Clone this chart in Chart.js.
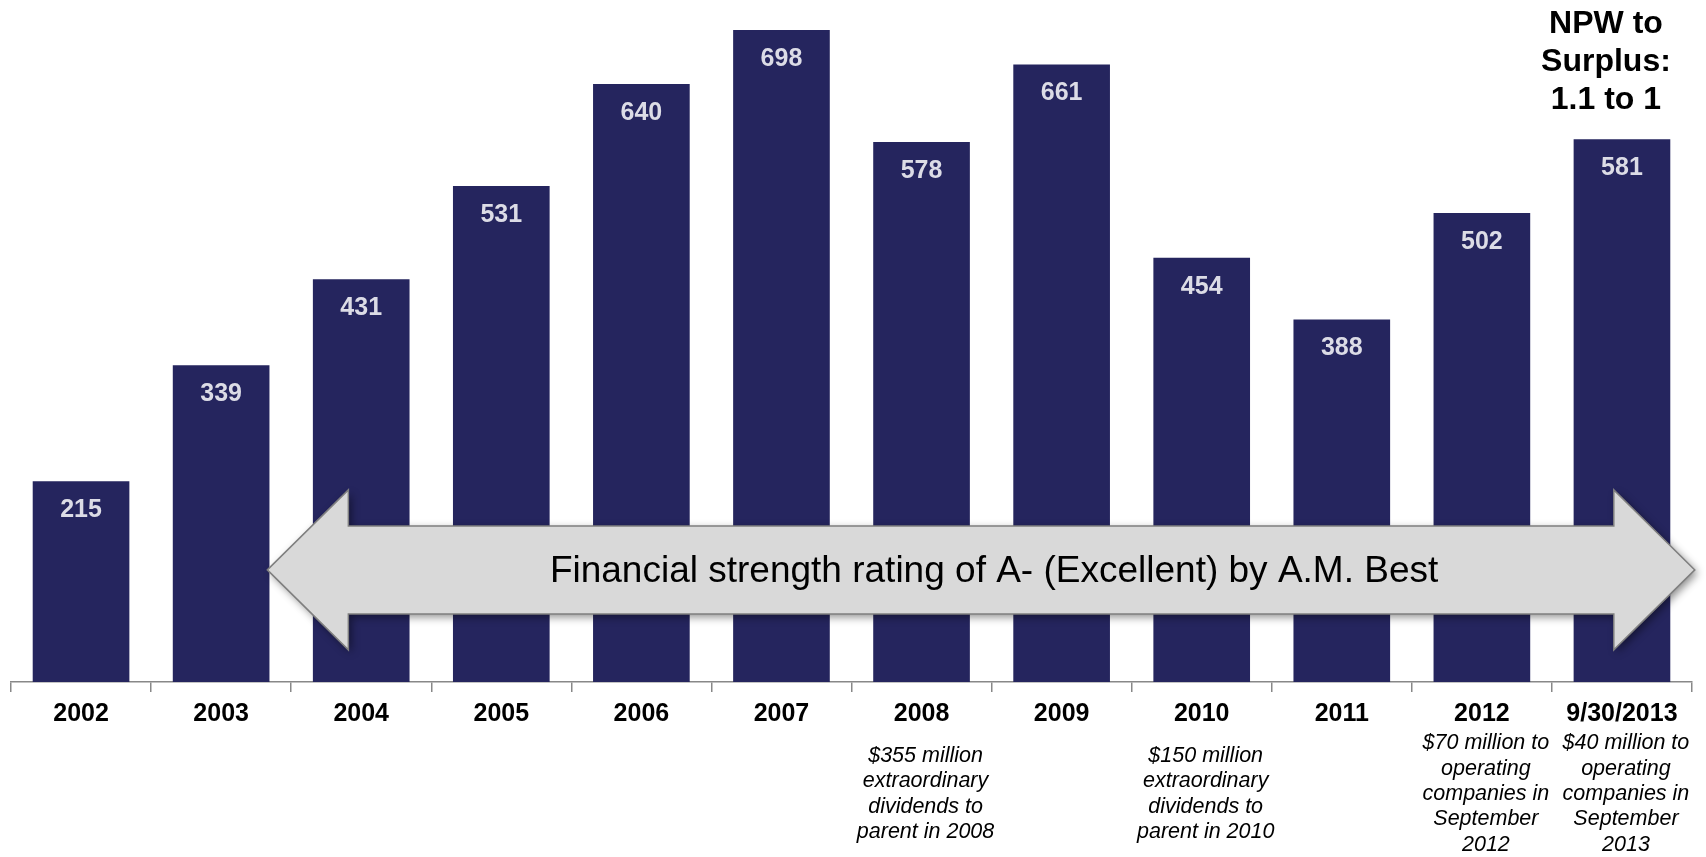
<!DOCTYPE html>
<html>
<head>
<meta charset="utf-8">
<script src="https://cdn.jsdelivr.net/npm/chart.js@4/dist/chart.umd.min.js"></script>
<style>
  html, body { margin: 0; padding: 0; background: #fff; }
  #wrap { width: 1706px; height: 857px; position: relative; }
</style>
</head>
<body>
<div id="wrap"><canvas id="surplusChart"></canvas></div>
<script>
// statutory surplus by year ($ millions)
const years = ['2002', '2003', '2004', '2005', '2006', '2007', '2008', '2009', '2010', '2011', '2012', '9/30/2013'];
const surplus = [215, 339, 431, 531, 640, 698, 578, 661, 454, 388, 502, 581];
const notes = [
	[], [], [], [], [], [],
	['$355 million', 'extraordinary', 'dividends to', 'parent in 2008'],
	[],
	['$150 million', 'extraordinary', 'dividends to', 'parent in 2010'],
	[],
	['$70 million to', 'operating', 'companies in', 'September', '2012'],
	['$40 million to', 'operating', 'companies in', 'September', '2013']
];
const arrowLabel = 'Financial strength rating of A- (Excellent) by A.M. Best';
const ratioLines = ['NPW to', 'Surplus:', '1.1 to 1'];
// arrow span in category index units, and its vertical centre in surplus units
const arrowFrom = 1.33, arrowTo = 11.52, arrowLevel = 120;

const FONT = '"Liberation Sans", Arial, sans-serif';

const overlayPlugin = {
	id: 'overlay',
	afterDatasetsDraw(chart) {
		const ctx = chart.ctx;
		const x = chart.scales.x, y = chart.scales.y;
		const meta = chart.getDatasetMeta(0);

		// values inside bars
		ctx.save();
		ctx.fillStyle = '#dcdce6';
		ctx.font = 'bold 25px ' + FONT;
		ctx.textAlign = 'center';
		ctx.textBaseline = 'middle';
		meta.data.forEach((bar, i) => {
			ctx.fillText(String(surplus[i]), bar.x, bar.y + 29);
		});
		ctx.restore();

		// double-headed arrow
		const left = x.getPixelForValue(arrowFrom);
		const right = x.getPixelForValue(arrowTo);
		const cy = y.getPixelForValue(arrowLevel);
		const body = 44, head = 80, headLen = 81;
		ctx.save();
		ctx.beginPath();
		ctx.moveTo(left, cy);
		ctx.lineTo(left + headLen, cy - head);
		ctx.lineTo(left + headLen, cy - body);
		ctx.lineTo(right - headLen, cy - body);
		ctx.lineTo(right - headLen, cy - head);
		ctx.lineTo(right, cy);
		ctx.lineTo(right - headLen, cy + head);
		ctx.lineTo(right - headLen, cy + body);
		ctx.lineTo(left + headLen, cy + body);
		ctx.lineTo(left + headLen, cy + head);
		ctx.closePath();
		ctx.shadowColor = 'rgba(0,0,0,0.45)';
		ctx.shadowBlur = 8;
		ctx.shadowOffsetX = 3;
		ctx.shadowOffsetY = 3;
		ctx.fillStyle = '#d9d9d9';
		ctx.fill();
		ctx.shadowColor = 'transparent';
		ctx.strokeStyle = '#7f7f7f';
		ctx.lineWidth = 1.5;
		ctx.stroke();
		ctx.fillStyle = '#000';
		ctx.font = '37px ' + FONT;
		ctx.textAlign = 'center';
		ctx.textBaseline = 'middle';
		ctx.fillText(arrowLabel, (left + right) / 2 + 13, cy + 2);
		ctx.restore();

		// notes under the year labels
		ctx.save();
		ctx.fillStyle = '#000';
		ctx.font = 'italic 21.5px ' + FONT;
		ctx.textAlign = 'center';
		ctx.textBaseline = 'middle';
		notes.forEach((lines, i) => {
			if (!lines.length) return;
			const cx = x.getPixelForValue(i) + 4;
			const step = 25.3;
			const top = 794 - (lines.length - 1) * step / 2;
			lines.forEach((t, k) => ctx.fillText(t, cx, top + k * step));
		});
		ctx.restore();

		// ratio callout over last bar
		ctx.save();
		ctx.fillStyle = '#000';
		ctx.font = 'bold 32px ' + FONT;
		ctx.textAlign = 'center';
		ctx.textBaseline = 'middle';
		const rx = x.getPixelForValue(years.length - 1) - 16;
		ratioLines.forEach((t, k) => ctx.fillText(t, rx, 24 + k * 38));
		ctx.restore();
	}
};

new Chart('surplusChart', {
	type: 'bar',
	data: {
		labels: years,
		datasets: [{
			data: surplus,
			backgroundColor: '#25255e',
			borderWidth: 0,
			barPercentage: 0.69,
			categoryPercentage: 1.0
		}]
	},
	options: {
		responsive: true,
		maintainAspectRatio: false,
		animation: false,
		layout: { padding: { left: 11, right: 14, top: 0, bottom: 0 } },
		plugins: {
			legend: { display: false },
			tooltip: { enabled: false }
		},
		scales: {
			x: {
				afterFit: (scale) => { scale.height = 175; },
				border: { color: '#888', width: 1.5 },
				grid: { drawOnChartArea: false, color: '#888', tickLength: 10, lineWidth: 1.5 },
				ticks: {
					color: '#000',
					font: { family: FONT, size: 25, weight: 'bold' },
					padding: 7,
					maxRotation: 0,
					autoSkip: false
				}
			},
			y: {
				display: false,
				min: 0,
				max: 730
			}
		}
	},
	plugins: [overlayPlugin]
});
</script>
</body>
</html>
